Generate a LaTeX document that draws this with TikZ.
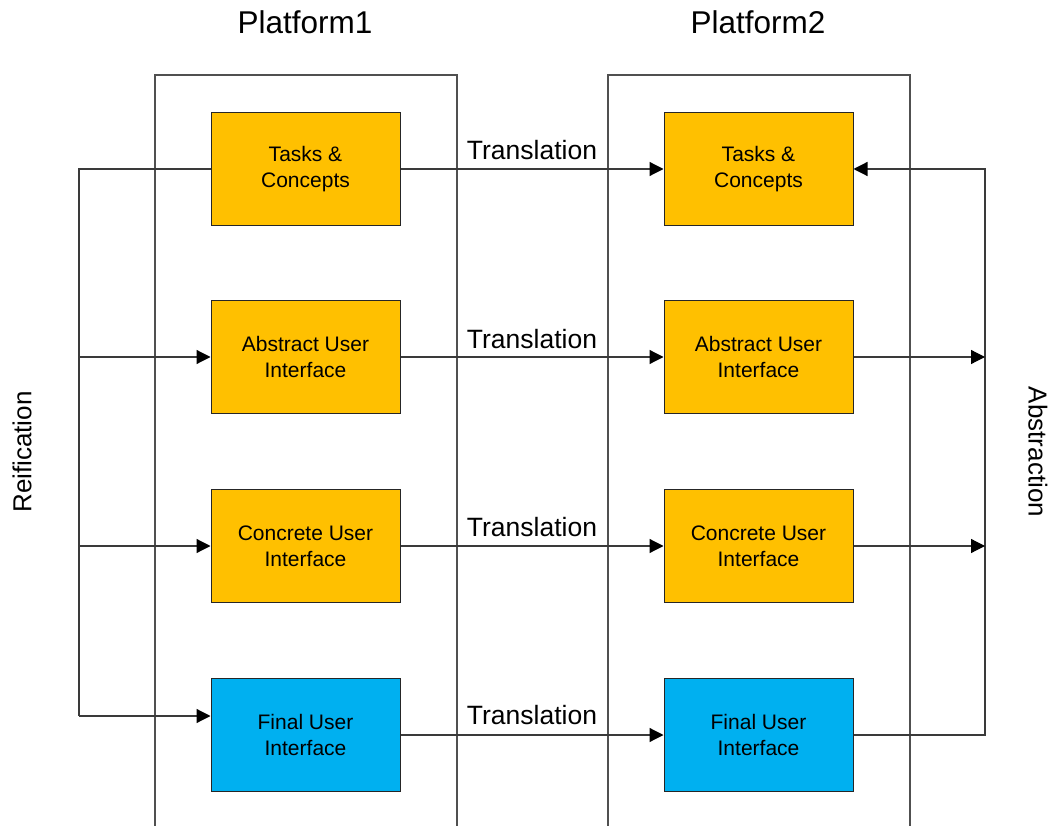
\documentclass[tikz,border=0pt]{standalone}
\usepackage{fontspec}
\setmainfont{Liberation Sans}
\usetikzlibrary{arrows.meta,calc}
\definecolor{boxyellow}{HTML}{FFC000}
\definecolor{boxblue}{HTML}{00B0F0}
\definecolor{framegray}{HTML}{505050}
\definecolor{linegray}{HTML}{3A3A3A}
\tikzset{
  stagebox/.style={draw=black!85, line width=1pt, minimum width=189pt, minimum height=113pt,
    inner sep=0pt, align=center, font=\fontsize{21}{26}\selectfont},
  yel/.style={stagebox, fill=boxyellow},
  blu/.style={stagebox, fill=boxblue},
  conn/.style={draw=linegray, line width=1.2pt},
  arr/.style={conn, -{Triangle[length=14pt,width=14pt,color=black]}},
  frame/.style={draw=framegray, line width=1.2pt},
  translabel/.style={font=\fontsize{26.5}{30}\selectfont, inner sep=0pt},
  platlabel/.style={font=\fontsize{31.5}{36}\selectfont, inner sep=0pt},
  sidelabel/.style={font=\fontsize{26}{30}\selectfont, inner sep=0pt}
}
\begin{document}
\begin{tikzpicture}[x=1pt,y=-1pt]
\useasboundingbox (0,0) rectangle (1055,826);
% platform frames (open at the bottom)
\draw[frame] (155,826) -- (155,75) -- (457,75) -- (457,826);
\draw[frame] (608,826) -- (608,75) -- (910,75) -- (910,826);
\node[platlabel] (P1) at (305,22) {Platform1};
\node[platlabel] (P2) at (758,22) {Platform2};
% boxes
\node[yel] (L1) at (305.5,169) {Tasks \&\\Concepts};
\node[yel] (L2) at (305.5,357) {Abstract User\\Interface};
\node[yel] (L3) at (305.5,546) {Concrete User\\Interface};
\node[blu] (L4) at (305.5,735) {Final User\\Interface};
\node[yel] (R1) at (758.5,169) {Tasks \&\\Concepts};
\node[yel] (R2) at (758.5,357) {Abstract User\\Interface};
\node[yel] (R3) at (758.5,546) {Concrete User\\Interface};
\node[blu] (R4) at (758.5,735) {Final User\\Interface};
% translation arrows
\draw[arr] (L1.east) -- (R1.west);
\draw[arr] (L2.east) -- (R2.west);
\draw[arr] (L3.east) -- (R3.west);
\draw[arr] (L4.east) -- (R4.west);
\node[translabel] (T1) at (532,150) {Translation};
\node[translabel] (T2) at (532,339) {Translation};
\node[translabel] (T3) at (532,527) {Translation};
\node[translabel] (T4) at (532,715) {Translation};
% reification
\coordinate (lt) at (79,169);
\coordinate (lb) at (79,716);
\coordinate (L4in) at ($(L4.west)+(0,-19)$);
\draw[conn] (L1.west) -- (lt) -- (lb);
\draw[arr] (lb) -- (L4in);
\draw[arr] (lt |- L2.west) -- (L2.west);
\draw[arr] (lt |- L3.west) -- (L3.west);
\node[sidelabel, rotate=90] (RF) at (22,452) {Reification};
% abstraction
\coordinate (rt) at (985,169);
\coordinate (rb) at (985,735);
\draw[arr] (R4.east) -- (rb) -- (rt) -- (R1.east);
\draw[arr] (R2.east) -- (rt |- R2.east);
\draw[arr] (R3.east) -- (rt |- R3.east);
\node[sidelabel, rotate=-90] (AB) at (1038,452) {Abstraction};
\end{tikzpicture}
\end{document}
